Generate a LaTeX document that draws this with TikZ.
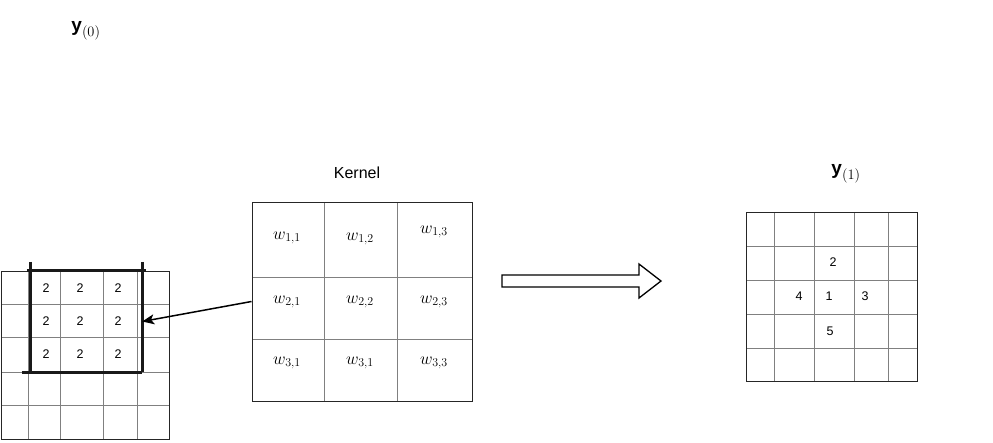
\documentclass[tikz,border=0pt]{standalone}
\usepackage{fontspec}
\setmainfont{Liberation Sans}
\usetikzlibrary{positioning, calc, arrows.meta}
\tikzset{gridline/.style={draw=black!50, line width=0.9pt},
    outerbox/.style={draw=black!85, line width=1pt, inner sep=0pt},
    bracket/.style={draw=black!90, line width=2.8pt},
    num/.style={font=\fontsize{12.5}{14}\selectfont, inner sep=0pt},
    wlabel/.style={font=\fontsize{17}{20}\selectfont, inner sep=0pt}
}

\begin{document}
\begin{tikzpicture}[x=1pt, y=-1pt]

\useasboundingbox (0,0) rectangle (993,442);

\node[font=\fontsize{19}{22}\selectfont] (ylabel0) at (86,31) {$\mathbf{y}_{(0)}$};

% input map
\foreach \x in {28,60,103,137} \draw[gridline] (\x,271) -- (\x,439);
\foreach \y in {304,337,372,405} \draw[gridline] (1.5,\y) -- (169.5,\y);
\node[outerbox, minimum width=168pt, minimum height=168pt] (ymap0) at (85.5,355) {};

\foreach \x in {46,80,118}
    \foreach \y in {288,321,354}
        \node[num] (two-\x-\y) at (\x,\y) {2};

\node[inner sep=0pt, minimum width=111pt, minimum height=101pt] (window) at (86.5,321.5) {};
\draw[bracket] ($(window.north west)+(-4,0)$) -- ($(window.north east)+(4,0)$);
\draw[bracket] ($(window.north west)+(0,-9)$) -- (window.south west);
\draw[bracket] ($(window.north east)+(0,-9)$) -- (window.south east);
\draw[bracket] ($(window.south west)+(-9,0)$) -- (window.south east);

% kernel
\foreach \x in {324,397} \draw[gridline] (\x,202) -- (\x,401);
\foreach \y in {277,339} \draw[gridline] (252,\y) -- (472,\y);
\node[outerbox, minimum width=220pt, minimum height=199pt] (kernel) at (362,301.5) {};
\node[font=\fontsize{16}{18}\selectfont] (kerneltitle) at (357,173) {Kernel};

\node[wlabel] (w11) at (287,238) {$w_{1,1}$};
\node[wlabel] (w12) at (360,239) {$w_{1,2}$};
\node[wlabel] (w13) at (434,232) {$w_{1,3}$};
\node[wlabel] (w21) at (287,302) {$w_{2,1}$};
\node[wlabel] (w22) at (360,302) {$w_{2,2}$};
\node[wlabel] (w23) at (434,302) {$w_{2,3}$};
\node[wlabel] (w31) at (287,363) {$w_{3,1}$};
\node[wlabel] (w32) at (360,363) {$w_{3,1}$};
\node[wlabel] (w33) at (434,363) {$w_{3,3}$};

\draw[-{Stealth[length=12pt, width=10pt, inset=3pt]}, line width=1.5pt] (kernel.west) -- (window.east);

% big arrow
\draw[line width=1.3pt, line join=miter] (502,275) -- (639,275) -- (639,264) -- (661,281)
    -- (639,298) -- (639,287) -- (502,287) -- cycle;

% output map
\foreach \x in {774,814,854,888} \draw[gridline] (\x,212) -- (\x,381);
\foreach \y in {246,280,314,348} \draw[gridline] (746,\y) -- (917,\y);
\node[outerbox, minimum width=171pt, minimum height=169pt] (ymap1) at (831.5,296.5) {};
\node[font=\fontsize{19}{22}\selectfont] (ylabel1) at (846,174) {$\mathbf{y}_{(1)}$};

\node[num] (out2) at (833,262) {2};
\node[num] (out4) at (799,296) {4};
\node[num] (out1) at (829,296) {1};
\node[num] (out3) at (865,296) {3};
\node[num] (out5) at (830,331) {5};

\end{tikzpicture}
\end{document}
